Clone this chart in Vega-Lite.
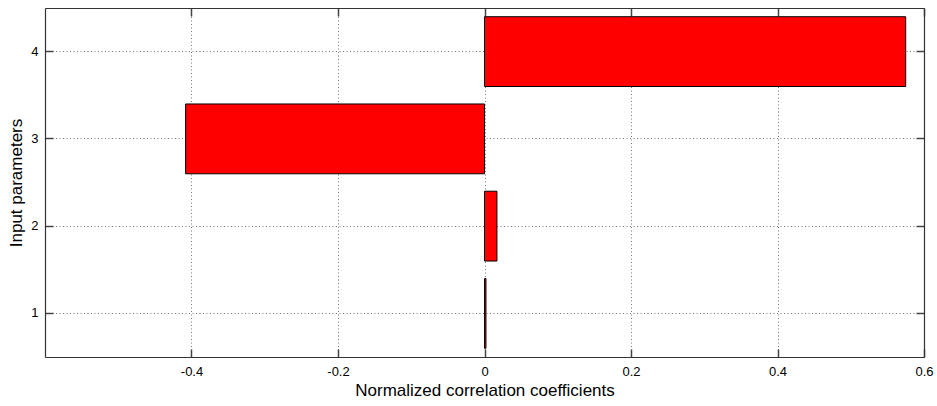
{
  "$schema": "https://vega.github.io/schema/vega-lite/v6.json",
  "width": 879,
  "height": 349,
  "autosize": {"type": "none"},
  "padding": {"left": 45, "top": 8, "right": 13, "bottom": 49},
  "background": "white",
  "config": {
    "view": {"stroke": null},
    "font": "Liberation Sans",
    "axis": {
      "labelFont": "Liberation Sans",
      "titleFont": "Liberation Sans",
      "labelFontSize": 13,
      "titleFontSize": 17,
      "titleFontWeight": "normal",
      "labelColor": "#000",
      "titleColor": "#000",
      "domainColor": "#333",
      "domainWidth": 1.2,
      "tickColor": "#444",
      "tickWidth": 1.5,
      "tickSize": -8,
      "gridColor": "#777",
      "gridDash": [1, 2.5],
      "gridWidth": 1,
      "gridOpacity": 1
    }
  },
  "data": {
    "values": [
      {"param": 1, "coef": 0.002},
      {"param": 2, "coef": 0.017},
      {"param": 3, "coef": -0.408},
      {"param": 4, "coef": 0.575}
    ]
  },
  "layer": [
    {
      "mark": {"type": "bar", "fill": "#ff0000", "stroke": "#000", "strokeWidth": 1},
      "encoding": {
        "x": {
          "field": "coef",
          "type": "quantitative",
          "scale": {"domain": [-0.6, 0.6], "nice": false, "zero": false},
          "axis": {
            "orient": "bottom",
            "title": "Normalized correlation coefficients",
            "values": [-0.4, -0.2, 0, 0.2, 0.4, 0.6],
            "labelExpr": "replace(format(datum.value, '.1~f'), '\u2212', '-')",
            "grid": true,
            "labelPadding": 16,
            "titlePadding": 4,
            "labelFlush": false
          }
        },
        "x2": {"datum": 0},
        "y": {
          "field": "param",
          "type": "ordinal",
          "sort": "descending",
          "scale": {"paddingInner": 0.2, "paddingOuter": 0.1},
          "axis": {
            "orient": "left",
            "title": "Input parameters",
            "grid": true,
            "labelAngle": 0,
            "labelPadding": 15,
            "titlePadding": 5
          }
        }
      }
    },
    {
      "mark": {"type": "bar", "opacity": 0},
      "encoding": {
        "x": {
          "field": "coef",
          "type": "quantitative",
          "axis": {
            "orient": "top",
            "title": null,
            "labels": false,
            "grid": false,
            "values": [-0.4, -0.2, 0, 0.2, 0.4, 0.6]
          }
        },
        "x2": {"datum": 0},
        "y": {
          "field": "param",
          "type": "ordinal",
          "sort": "descending",
          "axis": {
            "orient": "right",
            "title": null,
            "labels": false,
            "grid": false
          }
        }
      }
    }
  ]
}
